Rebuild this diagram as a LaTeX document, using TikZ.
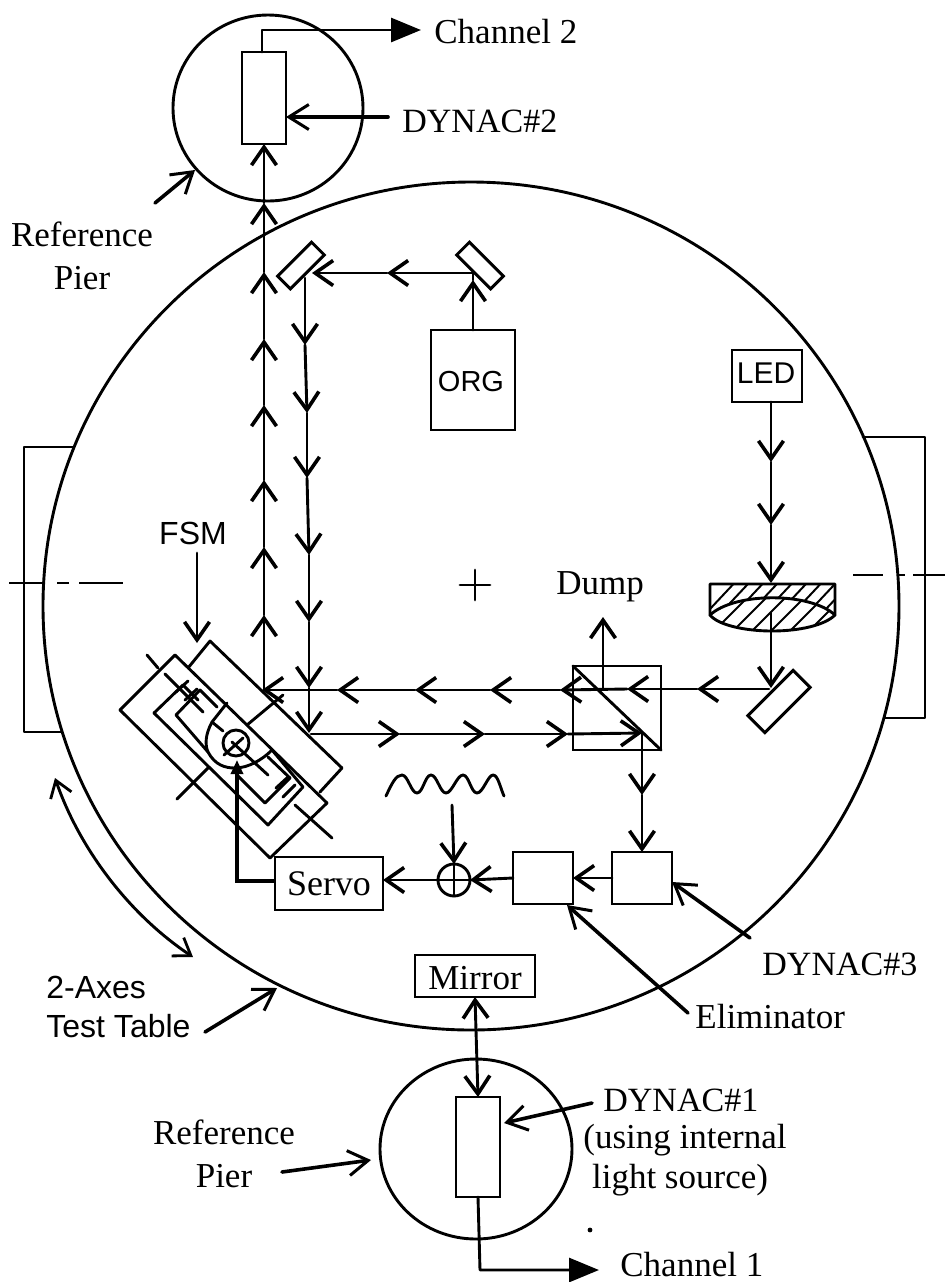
\documentclass[tikz,border=0pt]{standalone}
\usepackage{fontspec}
\setmainfont{Liberation Serif}
\setsansfont{Liberation Sans}
\usetikzlibrary{arrows.meta}
\tikzset{
  line/.style={line width=1.45pt,line cap=round,line join=round},
  barb/.tip={Straight Barb[length=9pt,width=12.5pt,line width=1.8pt]},
  ray/.style={line,-barb},
  pointer/.style={line width=1.8pt,line cap=round,-{Straight Barb[length=10pt,width=12.5pt,line width=1.5pt]}},
  solidtip/.style={line,-{Triangle[length=15pt,width=12pt]}},
  box/.style={draw,line width=1.45pt,inner sep=0pt,outer sep=0pt},
  serif/.style={font=\fontsize{17.5}{20}\selectfont,inner sep=0pt},
  sans/.style={font=\sffamily\fontsize{16}{19}\selectfont,inner sep=0pt},
  thin cut/.style={line width=1pt}
}
\begin{document}
\begin{tikzpicture}[x=0.5pt,y=-0.5pt]
\useasboundingbox (0,0) rectangle (945,1282);
% table and side rectangles
\draw[line] (471,606) ellipse [x radius=428,y radius=424];
\draw[line] (73,447) -- (24,447) -- (24,732) -- (62,732);
\draw[line] (863,437) -- (925,437) -- (925,718) -- (885,718);
\draw[thin cut] (9,583) -- (43,583) (57,583) -- (69,583) (79,583) -- (123,583);
\draw[thin cut] (853,575) -- (883,575) (898,575) -- (905,575) (913,575) -- (945,575);
\draw[line] (460,585) -- (490,585) (475,570) -- (475,600);
% piers
\draw[line] (268,108) ellipse [x radius=95,y radius=93];
\draw[line] (476,1149) ellipse [x radius=96,y radius=90];
\node[box,minimum width=22pt,minimum height=46pt] (d2) at (264,98) {};
\node[box,minimum width=22pt,minimum height=50pt] (d1) at (478,1147) {};
\node[box,minimum width=60pt,minimum height=21pt] (mirrorbox) at (475,976) {};
\node[serif] (mirrorlab) at (475,978) {Mirror};
\coordinate (c2a) at (262,30);
\coordinate (c2b) at (421,30);
\draw[solidtip] (262,52) -- (c2a) -- (c2b);
\node[serif,anchor=west] (ch2) at (434,32) {Channel 2};
\node[serif,anchor=west,font=\fontsize{17}{20}\selectfont] (dyn2) at (402,121) {DYNAC\#2};
\draw[pointer] (388,117) -- (d2.east |- 0,117);
\coordinate (rp2) at (155,203);
\coordinate (rp2b) at (195,170);
\draw[pointer] (rp2) -- (rp2b);
\node[serif,align=center] (ref2) at (82,256) {Reference\\[1.5pt]Pier};
% bottom pier connectors
\draw[line,barb-barb] (mirrorbox.south) -- (d1.north);
\coordinate (c1a) at (480,1270);
\coordinate (c1b) at (599,1270);
\draw[solidtip] (d1.south) -- (c1a) -- (c1b);
\node[serif,anchor=west] (ch1) at (620,1265) {Channel 1};
\node[serif,anchor=west,font=\fontsize{17}{20}\selectfont] (dyn1) at (603,1100) {DYNAC\#1};
\node[serif] (using) at (685,1140) {(using internal};
\node[serif] (lightsrc) at (680,1180) {light source)};
\draw[pointer] (592,1103) -- (504,1123);
\node[serif,align=center] (ref1) at (224,1154) {Reference\\[1.5pt]Pier};
\draw[pointer] (282,1172) -- (371,1160);
\fill (590,1230) circle (1.2pt);
% mirrors
\node[box,minimum width=24pt,minimum height=9pt,rotate=45] (m1) at (301,265.5) {};
\node[box,minimum width=24pt,minimum height=9pt,rotate=-45] (m2) at (480,265.5) {};
\node[box,minimum width=32pt,minimum height=12pt,rotate=45] (m3) at (779,701.5) {};
% ORG, LED
\node[box,minimum width=42pt,minimum height=50pt] (org) at (473,380) {};
\node[sans,font=\sffamily\fontsize{14.5}{17}\selectfont] (orglab) at (471,382) {ORG};
\node[box,minimum width=35pt,minimum height=26pt] (led) at (767,376) {};
\node[font=\sffamily\fontsize{15}{17}\selectfont,inner sep=0pt] (ledlab) at (766,373) {LED};
% ORG beam
\coordinate (o1) at (473,280);
\coordinate (o2) at (473,273);
\coordinate (o3) at (387,273);
\coordinate (o4) at (312,273);
\draw[ray] (org.north) -- (o1);
\draw[line] (o2) -- (o1);
\draw[ray] (o2) -- (o3);
\draw[ray] (o3) -- (o4);
% down beam
\coordinate (t0) at (305,278);
\coordinate (t1) at (305,345);
\coordinate (t2) at (307,413);
\coordinate (t3) at (307,478);
\coordinate (t4) at (309,555);
\coordinate (t5) at (309,622);
\coordinate (t6) at (309,688);
\coordinate (t7) at (309,733);
\draw[ray] (t0) -- (t1);
\draw[ray] (t1) -- (t2);
\draw[ray] (t2) -- (t3);
\draw[ray] (t3) -- (t4);
\draw[ray] (t4) -- (t5);
\draw[ray] (t5) -- (t6);
\draw[ray] (t6) -- (t7);
% up beam
\coordinate (u0) at (264,690);
\coordinate (u1) at (264,615);
\coordinate (u2) at (264,547);
\coordinate (u3) at (264,480);
\coordinate (u4) at (264,405);
\coordinate (u5) at (264,339);
\coordinate (u6) at (264,272);
\coordinate (u7) at (264,203);
\draw[ray] (u0) -- (u1);
\draw[ray] (u1) -- (u2);
\draw[ray] (u2) -- (u3);
\draw[ray] (u3) -- (u4);
\draw[ray] (u4) -- (u5);
\draw[ray] (u5) -- (u6);
\draw[ray] (u6) -- (u7);
\draw[ray] (u7) -- (d2.south);
% LED beam and lens
\coordinate (l1) at (771,462);
\coordinate (l2) at (771,525);
\coordinate (l3) at (771,583);
\coordinate (l4) at (771,613);
\coordinate (l5) at (771,688);
\draw[ray] (led.south -| l1) -- (l1);
\draw[ray] (l1) -- (l2);
\draw[ray] (l2) -- (l3);
\draw[ray] (l4) -- (l5);
\begin{scope}
\clip (710,584) -- (835,584) -- (835,615) .. controls (810,592) and (735,592) .. (710,615) -- cycle;
\foreach \i in {0,...,13} {\draw[line width=1pt] ({695+14.5*\i},625) -- ({740+14.5*\i},577);}
\end{scope}
\begin{scope}
\clip (710,615) .. controls (735,592) and (810,592) .. (835,615) .. controls (825,625) and (800,631) .. (772,631) .. controls (745,631) and (718,625) .. (710,615) -- cycle;
\foreach \i in {0,...,7} {\draw[line width=1pt] ({705+19*\i},640) -- ({755+19*\i},590);}
\end{scope}
\draw[line] (710,584) -- (835,584) -- (835,615) .. controls (825,625) and (800,631) .. (772,631) .. controls (745,631) and (718,625) .. (710,615) -- cycle;
\draw[line] (710,615) .. controls (735,592) and (810,592) .. (835,615);
% beam splitter
\node[box,minimum width=44pt,minimum height=42pt] (cube) at (617,708) {};
\draw[line] (cube.north west) -- (cube.south east);
\coordinate (h1) at (697,689);
\coordinate (h2) at (627,689);
\coordinate (h3) at (560,690);
\coordinate (h4) at (490,690);
\coordinate (h5) at (415,690);
\coordinate (h6) at (337,690);
\coordinate (h7) at (262,690);
\coordinate (h0) at (769,689);
\draw[ray] (h0) -- (h1);
\draw[ray] (h1) -- (h2);
\draw[ray] (h2) -- (h3);
\draw[ray] (h3) -- (h4);
\draw[ray] (h4) -- (h5);
\draw[ray] (h5) -- (h6);
\draw[ray] (h6) -- (h7);
\coordinate (dumpfoot) at (603,689);
\coordinate (dumptip) at (603,617);
\draw[ray] (dumpfoot) -- (dumptip);
\node[serif] (dump) at (600,587) {Dump};
\coordinate (r0) at (311,734);
\coordinate (r1) at (400,734);
\coordinate (r2) at (485,734);
\coordinate (r3) at (568,734);
\coordinate (r4) at (642,733);
\draw[ray] (r0) -- (r1);
\draw[ray] (r1) -- (r2);
\draw[ray] (r2) -- (r3);
\draw[ray] (r3) -- (r4);
% signal chain
\coordinate (dn) at (642,795);
\node[box,minimum width=30pt,minimum height=26pt] (a) at (642,878) {};
\node[box,minimum width=30pt,minimum height=26pt] (b) at (543,878) {};
\node[box,minimum width=54pt,minimum height=26.5pt] (servo) at (329,883.5) {};
\node[serif,font=\fontsize{18}{20}\selectfont] (servolab) at (329,884) {Servo};
\node[draw,circle,line width=1.45pt,minimum size=16pt,inner sep=0pt,outer sep=0pt] (sum) at (454,880) {};
\draw[line] (sum.west) -- (sum.east) (sum.north) -- (sum.south);
\draw[ray] (r4) -- (dn);
\draw[ray] (dn) -- (a.north);
\draw[ray] (a.west) -- (b.east);
\draw[ray] (b.west) -- (sum.east);
\draw[ray] (sum.west) -- (servo.east |- sum.west);
\coordinate (wavefoot) at (452,805);
\draw[ray] (wavefoot) -- (sum.north);
\draw[line] (386,796) .. controls (392,783) and (396,775) .. (402,775) .. controls (408,775) and (411,793) .. (417,793) .. controls (423,793) and (425,775) .. (431,775) .. controls (437,775) and (440,793) .. (446,793) .. controls (452,793) and (457,775) .. (463,775) .. controls (469,775) and (471,793) .. (477,793) .. controls (483,793) and (488,775) .. (493,775) .. controls (498,775) and (500,787) .. (504,796);
\coordinate (dyn3a) at (750,938);
\coordinate (dyn3b) at (672,882);
\draw[pointer] (dyn3a) -- (dyn3b);
\node[serif,anchor=west,font=\fontsize{17}{20}\selectfont] (dyn3) at (762,964) {DYNAC\#3};
\coordinate (elima) at (688,1013);
\coordinate (elimb) at (567,905);
\draw[pointer] (elima) -- (elimb);
\node[serif,anchor=west] (elim) at (695,1017) {Eliminator};
% FSM
\node[sans] (fsm) at (193,533) {FSM};
\coordinate (fsma) at (197,553);
\coordinate (fsmb) at (197,643);
\draw[ray] (fsma) -- (fsmb);
\draw[line] (120,710) -- (175,655) -- (327,803) -- (270,858) -- cycle;
\draw[line] (188,668) -- (210,641) -- (342,768) -- (320,792);
\draw[line] (154,713) -- (183,685) -- (198,700);
\draw[line] (227,703) -- (212,722) .. controls (205,735) and (205,745) .. (208,752) .. controls (215,765) and (225,768) .. (235,768) .. controls (248,768) and (262,760) .. (272,750);
\draw[line] (272,750) -- (303,787) -- (268,825) -- (154,713);
\draw[line] (208,752) -- (176,715) -- (200,690) -- (217,707);
\draw[line] (237,775) -- (265,803) -- (290,778) -- (268,757);
\draw[line] (147,655) -- (158,668) (165,674) -- (203,712) (212,722) -- (223,731) (232,742) -- (268,775) (295,805) -- (332,838);
\draw[line] (177,799) -- (208,768) (247,725) -- (283,695);
\draw[line] (176,692) -- (188,681) (185,700) -- (197,689) (276,788) -- (288,777) (283,797) -- (295,785);
\node[draw,circle,line width=1.45pt,minimum size=13pt,inner sep=0pt,outer sep=0pt] (pivot) at (236,743) {};
\draw[line] (224,755) -- (243,738);
% servo feedback
\coordinate (fb1) at (237,881);
\coordinate (fb2) at (237,760);
\draw[line width=1.7pt,-{Triangle[length=7pt,width=6pt]}] (servo.west |- fb1) -- (fb1) -- (fb2);
% table rotation
\coordinate (rota) at (55,778);
\coordinate (rotb) at (193,957);
\draw[line,{Straight Barb[length=8pt,width=11pt,line width=1.4pt]}-{Straight Barb[length=8pt,width=11pt,line width=1.4pt]}] (rota) .. controls (80,850) and (130,915) .. (rotb);
\node[sans,anchor=base west] (ax1) at (46,998) {2-Axes};
\node[sans,anchor=base west] (ax2) at (46,1037) {Test Table};
\coordinate (tta) at (205,1032);
\coordinate (ttb) at (277,988);
\draw[pointer] (tta) -- (ttb);
\end{tikzpicture}
\end{document}
